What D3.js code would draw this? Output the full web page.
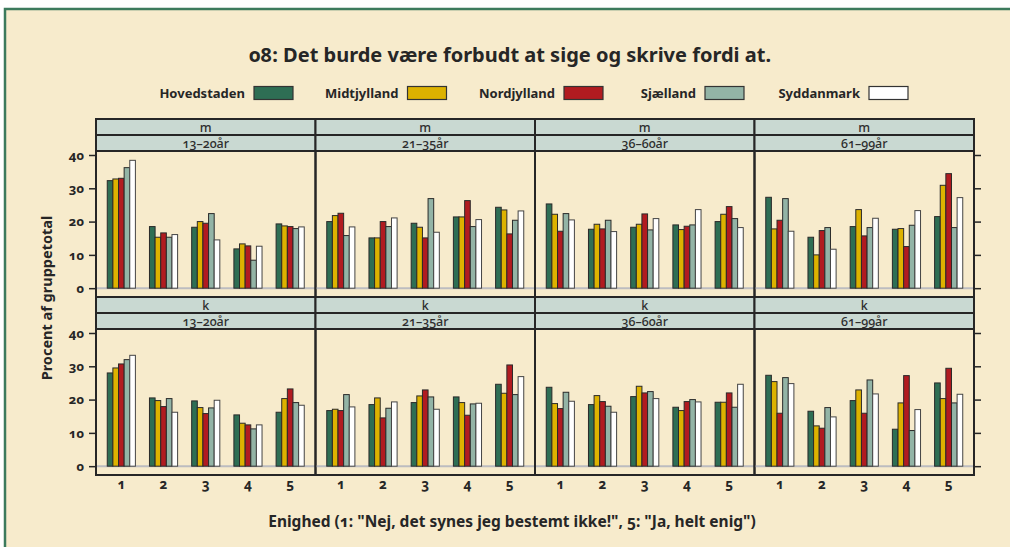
<!DOCTYPE html>
<html>
<head>
<meta charset="utf-8">
<script src="https://cdn.jsdelivr.net/npm/d3@7"></script>
<style>
  body { margin: 0; background: #fff; }
  svg { display: block; font-family: "Noto Sans", "Open Sans", sans-serif; font-variant-numeric: oldstyle-nums; }
</style>
</head>
<body>
<script>
// categories and series
var levels = ["1", "2", "3", "4", "5"];
var regions = ["Hovedstaden", "Midtjylland", "Nordjylland", "Sjælland", "Syddanmark"];
var colors = ["#2e6e54", "#ddb200", "#b11b20", "#93b4a6", "#ffffff"];
var ages = ["13–20år", "21–35år", "36–60år", "61–99år"];
var sexes = ["m", "k"];
var yTicks = [0, 10, 20, 30, 40];

// percent per level (rows) and region (columns)
var m_13_20 = [[32.3, 32.8, 33.0, 36.2, 38.4], [18.5, 15.3, 16.6, 15.3, 16.1], [18.3, 20.0, 19.5, 22.4, 14.5], [11.8, 13.3, 12.7, 8.4, 12.6], [19.3, 18.7, 18.5, 17.9, 18.4]];
var m_21_35 = [[20.0, 21.8, 22.5, 15.8, 18.4], [15.1, 15.1, 20.0, 18.5, 21.1], [19.5, 18.3, 15.1, 26.9, 16.8], [21.4, 21.4, 26.3, 18.5, 20.6], [24.3, 23.5, 16.3, 20.4, 23.2]];
var m_36_60 = [[25.3, 22.2, 17.1, 22.4, 20.5], [17.7, 19.2, 17.8, 20.4, 17.0], [18.3, 19.2, 22.3, 17.5, 20.9], [19.0, 17.6, 18.6, 19.0, 23.6], [20.0, 22.2, 24.5, 20.9, 18.2]];
var m_61_99 = [[27.3, 17.8, 20.4, 26.9, 17.1], [15.3, 10.0, 17.3, 18.2, 11.7], [18.5, 23.6, 15.7, 18.2, 21.0], [17.7, 17.9, 12.5, 18.9, 23.3], [21.5, 30.9, 34.4, 18.2, 27.2]];
var k_13_20 = [[28.0, 29.5, 30.7, 32.0, 33.3], [20.5, 19.7, 17.9, 20.3, 16.2], [19.6, 17.6, 15.8, 17.5, 19.8], [15.4, 12.9, 12.4, 11.2, 12.4], [16.2, 20.3, 23.2, 19.1, 18.3]];
var k_21_35 = [[16.7, 17.1, 16.7, 21.5, 17.8], [18.5, 20.5, 14.5, 17.4, 19.3], [19.1, 21.1, 22.9, 20.8, 17.1], [20.8, 19.1, 15.3, 18.7, 18.9], [24.6, 21.9, 30.4, 21.5, 26.9]];
var k_36_60 = [[23.7, 18.8, 17.3, 22.2, 19.5], [18.5, 21.2, 19.4, 18.0, 16.2], [20.9, 24.0, 22.0, 22.4, 20.3], [17.7, 16.7, 19.4, 20.0, 19.3], [19.2, 19.2, 22.0, 17.7, 24.6]];
var k_61_99 = [[27.3, 25.4, 15.9, 26.6, 24.8], [16.5, 12.1, 11.4, 17.6, 14.8], [19.7, 22.9, 15.9, 25.9, 21.7], [11.1, 19.0, 27.2, 10.7, 17.0], [25.0, 20.3, 29.4, 19.0, 21.6]];

var panelData = {
  m: [m_13_20, m_21_35, m_36_60, m_61_99],
  k: [k_13_20, k_21_35, k_36_60, k_61_99]
};

var W = 1010, H = 547;
var left = 96, right = 974;
var pw = (right - left) / 4;
var stripH = 16;
var rowTop = [119, 297];
var panelH = 146;
var ink = "#262626";

var svg = d3.select("body").append("svg")
    .attr("width", W)
    .attr("height", H);

// cream box with green frame
svg.append("rect")
    .attr("x", 5).attr("y", 9)
    .attr("width", W + 20).attr("height", H + 20)
    .attr("fill", "#f7ebcc")
    .attr("stroke", "#3c7a5c")
    .attr("stroke-width", 2.5);

svg.append("text")
    .attr("x", 510).attr("y", 62)
    .attr("text-anchor", "middle")
    .attr("font-size", 20).attr("font-weight", "bold")
    .attr("fill", ink)
    .text("08: Det burde være forbudt at sige og skrive fordi at.");

// legend
var legendX = [254, 407.5, 564, 705, 869];
var legend = svg.append("g").attr("class", "legend")
  .selectAll("g")
  .data(regions)
  .enter().append("g");
legend.append("text")
    .attr("x", function(d, i) { return legendX[i] - 9 })
    .attr("y", 97.5)
    .attr("text-anchor", "end")
    .attr("font-size", 13).attr("font-weight", "bold")
    .attr("fill", ink)
    .text(function(d) { return d });
legend.append("rect")
    .attr("x", function(d, i) { return legendX[i] })
    .attr("y", 86.5)
    .attr("width", 39).attr("height", 13)
    .attr("fill", function(d, i) { return colors[i] })
    .attr("stroke", "#333").attr("stroke-width", 1.2);

var x = d3.scaleLinear().domain([0.4, 5.6]).range([0, pw]);
var inner = d3.scaleBand().domain(regions).range([-1/3, 1/3]);

sexes.forEach(function(sex, r) {
  var top = rowTop[r] + 2 * stripH;
  var y = d3.scaleLinear().domain([-2.65, 41.2]).range([top + panelH, top]);

  ages.forEach(function(age, c) {
    var px = left + c * pw;
    var g = svg.append("g").attr("transform", "translate(" + px + ",0)");

    // strips
    [sex, age].forEach(function(lab, s) {
      var sy = rowTop[r] + s * stripH;
      g.append("rect")
          .attr("x", 0).attr("y", sy)
          .attr("width", pw).attr("height", stripH)
          .attr("fill", "#c9d9d2")
          .attr("stroke", ink).attr("stroke-width", 2);
      g.append("text")
          .attr("x", pw / 2).attr("y", sy + 12.5)
          .attr("text-anchor", "middle")
          .attr("font-size", 12.5).attr("font-weight", 500).attr("fill", "#2e2e2e")
          .text(lab);
    });

    // zero reference line
    g.append("line")
        .attr("x1", 0).attr("x2", pw)
        .attr("y1", y(0)).attr("y2", y(0))
        .attr("stroke", "#bcbcc0").attr("stroke-width", 2);

    var rows = panelData[sex][c];
    var groups = g.selectAll("g.grp")
      .data(rows)
      .enter().append("g").attr("class", "grp");
    groups.selectAll("rect")
      .data(function(vals, gi) {
        return vals.map(function(v, j) { return { level: gi + 1, region: regions[j], v: v, j: j } });
      })
      .enter().append("rect")
        .attr("x", function(d) { return x(d.level + inner(d.region)) })
        .attr("width", x(inner.bandwidth()) - x(0))
        .attr("y", function(d) { return y(d.v) })
        .attr("height", function(d) { return y(0) - y(d.v) })
        .attr("fill", function(d) { return colors[d.j] })
        .attr("stroke", function(d) { return d.j == 4 ? "#444" : "#2a2a2a" })
        .attr("stroke-width", 1);

    g.append("rect")
        .attr("x", 0).attr("y", top)
        .attr("width", pw).attr("height", panelH)
        .attr("fill", "none")
        .attr("stroke", ink).attr("stroke-width", 2);

    if (r == 1) {
      g.selectAll("text.xt")
        .data(levels)
        .enter().append("text").attr("class", "xt")
          .attr("x", function(d) { return x(+d) })
          .attr("y", top + panelH + 14)
          .attr("text-anchor", "middle")
          .attr("font-size", 13.5).attr("font-weight", "bold")
          .attr("fill", ink)
          .text(function(d) { return d });
    }
  });

  // y axis left with labels, right ticks only
  var yAxisL = d3.axisLeft(y).tickValues(yTicks).tickSize(7).tickPadding(5);
  var gl = svg.append("g").attr("transform", "translate(" + left + ",0)").call(yAxisL);
  var yAxisR = d3.axisRight(y).tickValues(yTicks).tickSize(7).tickFormat("");
  var gr = svg.append("g").attr("transform", "translate(" + right + ",0)").call(yAxisR);
  [gl, gr].forEach(function(a) {
    a.select(".domain").remove();
    a.selectAll("line").attr("stroke", ink).attr("stroke-width", 1.5);
    a.selectAll("text")
        .attr("font-family", "\"Noto Sans\", sans-serif")
        .attr("font-size", 13).attr("font-weight", "bold")
        .attr("fill", ink);
  });
});

svg.append("text")
    .attr("transform", "translate(52,298) rotate(-90)")
    .attr("text-anchor", "middle")
    .attr("font-size", 14.5).attr("font-weight", "bold")
    .attr("fill", ink)
    .text("Procent af gruppetotal");

svg.append("text")
    .attr("x", 512).attr("y", 527)
    .attr("text-anchor", "middle")
    .attr("font-size", 15.5).attr("font-weight", "bold")
    .attr("fill", ink)
    .text("Enighed (1: \"Nej, det synes jeg bestemt ikke!\", 5: \"Ja, helt enig\")");
</script>
</body>
</html>
